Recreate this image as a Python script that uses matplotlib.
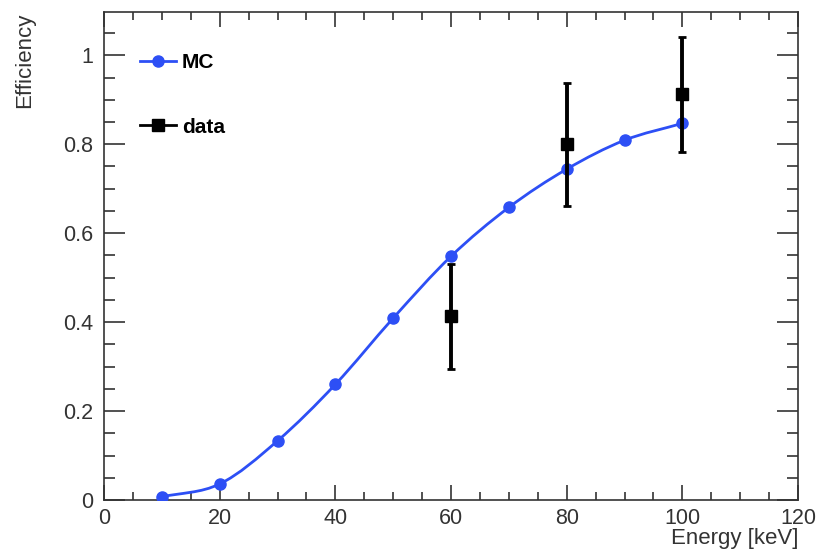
import numpy as np
import matplotlib
matplotlib.use("Agg")
import matplotlib.pyplot as plt
from matplotlib.path import Path
from matplotlib.patches import PathPatch
from matplotlib.lines import Line2D
from matplotlib.ticker import MultipleLocator

plt.rcParams["font.family"] = ["Liberation Sans", "DejaVu Sans"]

# MC efficiency
mc_energy = [10, 20, 30, 40, 50, 60, 70, 80, 90, 100]
mc_eff    = [0.007, 0.036, 0.133, 0.26, 0.409, 0.548, 0.658, 0.744, 0.809, 0.847]

# measured data
data_energy = [60, 80, 100]
data_eff    = [0.413, 0.800, 0.912]
data_err    = [0.118, 0.138, 0.130]

BLUE = "#2d4ff5"

def smooth_path(x, y):
    # Catmull-Rom through the points, as cubic Bezier segments (ROOT "C" style)
    x = np.asarray(x, float); y = np.asarray(y, float)
    px = np.concatenate([[2*x[0]-x[1]], x, [2*x[-1]-x[-2]]])
    py = np.concatenate([[2*y[0]-y[1]], y, [2*y[-1]-y[-2]]])
    verts = [(x[0], y[0])]
    codes = [Path.MOVETO]
    for i in range(1, len(px) - 2):
        c1 = (px[i] + (px[i+1]-px[i-1])/6, py[i] + (py[i+1]-py[i-1])/6)
        c2 = (px[i+1] - (px[i+2]-px[i])/6, py[i+1] - (py[i+2]-py[i])/6)
        verts += [c1, c2, (px[i+1], py[i+1])]
        codes += [Path.CURVE4] * 3
    return Path(verts, codes)

fig = plt.figure(figsize=(8.21, 5.54), dpi=100)
ax = fig.add_axes([0.1267, 0.0975, 0.8453, 0.8805])

ax.add_patch(PathPatch(smooth_path(mc_energy, mc_eff), fill=False,
                       edgecolor=BLUE, lw=2.0, zorder=2))
ax.plot(mc_energy, mc_eff, ls="none", marker="o", ms=8, color=BLUE, zorder=3)
ax.errorbar(data_energy, data_eff, yerr=data_err, fmt="s", ms=8, color="black",
            ecolor="black", elinewidth=2.8, capsize=3, capthick=2, zorder=4)

ax.set_xlim(0, 120)
ax.set_ylim(0, 1.097)
ax.xaxis.set_major_locator(MultipleLocator(20))
ax.xaxis.set_minor_locator(MultipleLocator(5))
ax.yaxis.set_major_locator(MultipleLocator(0.2))
ax.yaxis.set_minor_locator(MultipleLocator(0.05))
ax.yaxis.set_major_formatter(plt.FuncFormatter(lambda v, p: f"{v:g}"))
ax.tick_params(which="both", direction="in", top=True, right=True,
               labelsize=15.5, colors="#333333", width=1.2)
ax.tick_params(axis="x", which="major", length=11, pad=6)
ax.tick_params(axis="x", which="minor", length=5.5)
ax.tick_params(axis="y", which="major", length=15, pad=8)
ax.tick_params(axis="y", which="minor", length=8)
for s in ax.spines.values():
    s.set_linewidth(1.2)
    s.set_color("#333333")

ax.set_xlabel("Energy [keV]", fontsize=16, color="#333333", loc="right", labelpad=-1)
ax.set_ylabel("Efficiency", fontsize=16, color="#333333", loc="top", labelpad=20)

handles = [Line2D([], [], color=BLUE, lw=2, marker="o", ms=8),
           Line2D([], [], color="black", lw=2, marker="s", ms=8)]
ax.legend(handles, ["MC", "data"], loc="upper left", bbox_to_anchor=(0.025, 0.955),
          frameon=False, handlelength=1.7, handletextpad=0.3, labelspacing=2.2,
          prop={"size": 15, "weight": "bold"})

fig.savefig("out.png", dpi=100)
